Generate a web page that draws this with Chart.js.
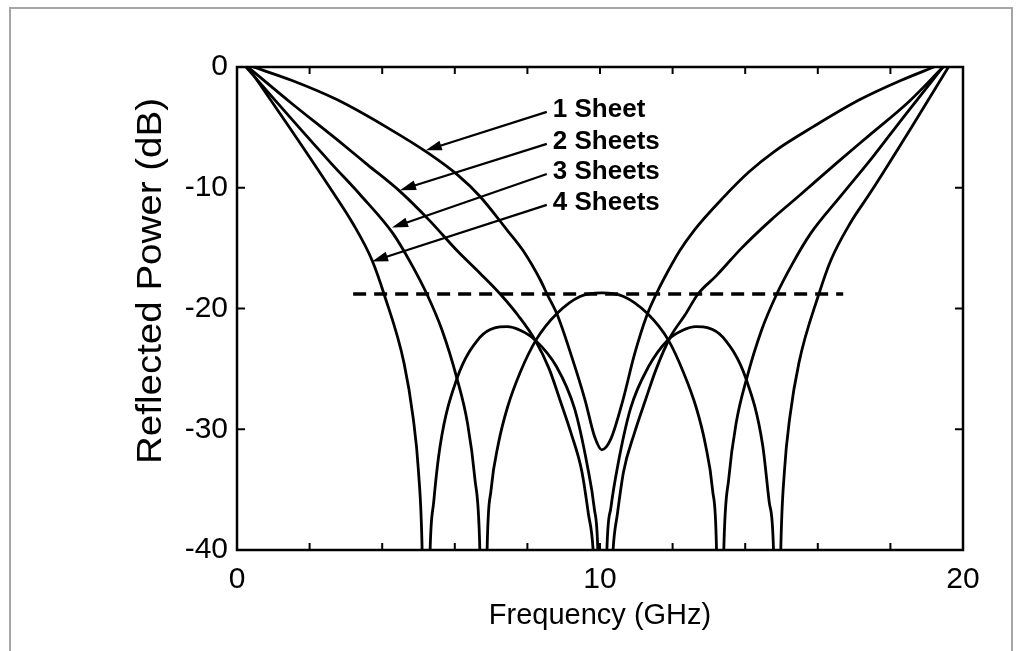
<!DOCTYPE html>
<html lang="en">
<head>
    <meta charset="UTF-8">
    <title>Reflected Power</title>
    <style>
        body { margin: 0; background: #fff; }
        .grafico { position: relative; width: 1020px; height: 651px; }
    </style>
</head>
<body>
    <div class="grafico">
        <canvas id="myChart" width="1020" height="651"></canvas>
    </div>

    <script src="https://cdn.jsdelivr.net/npm/chart.js"></script>
    <script>
        // values: frequency (GHz) / reflected power (dB)
        var freq1 = [0.45, 1.5, 2.75, 4.13, 5.3, 6.1, 6.69, 7.44, 7.88, 8.35, 8.54, 8.82, 9.2, 9.59, 9.85, 10.05, 10.3, 10.63, 10.95, 11.3, 11.55, 11.75, 12.2, 12.6, 13.4, 14.1, 14.8, 15.9, 17.16, 18.3, 19.2];
        var power1 = [0, -1.1, -2.7, -5.0, -7.2, -9.0, -10.7, -13.5, -15.2, -17.6, -18.8, -20.5, -23.8, -27.6, -30.6, -31.7, -30.8, -27.6, -23.8, -20.5, -18.8, -17.6, -15.2, -13.5, -10.8, -8.7, -7.0, -4.9, -2.7, -1.1, 0];

        var freq2 = [0.3, 1.5, 2.75, 3.6, 4.49, 5.3, 6.06, 6.7, 7.25, 7.75, 8.21, 8.6, 8.9, 9.2, 9.5, 9.68, 9.81, 10.08, 10.36, 10.48, 10.65, 10.95, 11.25, 11.55, 11.93, 12.35, 12.7, 13.2, 13.9, 14.7, 15.51, 16.5, 17.4, 18.5, 19.45];
        var power2 = [0, -3.0, -6.0, -8.1, -10.3, -12.7, -15.2, -17.1, -18.8, -20.6, -22.6, -25.0, -27.6, -30.3, -33.5, -37, -40, -60, -40, -37, -33.5, -30.3, -27.6, -25.0, -22.4, -20.5, -18.8, -17.3, -15.0, -12.7, -10.6, -8.0, -5.7, -2.9, 0];

        var freq3 = [0.25, 1.5, 2.6, 3.4, 4.3, 4.8, 5.23, 5.65, 6.06, 6.35, 6.55, 6.69, 6.8, 6.89, 7.0, 7.2, 7.45, 7.8, 8.24, 8.82, 9.45, 10.05, 10.65, 11.3, 11.88, 12.3, 12.65, 12.9, 13.1, 13.21, 13.3, 13.41, 13.55, 13.75, 14.04, 14.45, 14.87, 15.3, 15.8, 16.6, 17.5, 18.4, 19.45];
        var power3 = [0, -4.3, -8.0, -10.6, -13.8, -16.3, -18.8, -21.8, -25.8, -29.5, -34, -40, -60, -40, -35, -31.2, -28.2, -25.3, -22.6, -20.4, -19.0, -18.7, -19.0, -20.4, -22.6, -25.3, -28.2, -31.2, -35, -40, -60, -40, -34, -29.5, -25.8, -21.8, -18.8, -16.3, -13.8, -10.8, -7.5, -4.0, 0];

        var freq4 = [0.3, 1.4, 2.56, 3.2, 3.72, 4.05, 4.6, 4.85, 5.0, 5.1, 5.2, 5.32, 5.42, 5.6, 6.06, 6.69, 7.1, 7.44, 7.8, 8.21, 8.8, 9.3, 9.65, 9.84, 9.94, 10.07, 10.19, 10.3, 10.49, 10.84, 11.34, 11.87, 12.28, 12.64, 12.98, 13.39, 14.02, 14.48, 14.66, 14.78, 14.88, 14.98, 15.08, 15.23, 15.48, 16.03, 16.36, 16.88, 17.45, 18.6, 19.6];
        var power4 = [0, -4.8, -10.0, -13.0, -16.0, -18.8, -24.5, -29, -33.5, -40, -60, -40, -36, -31.3, -25.8, -22.4, -21.6, -21.5, -21.8, -22.6, -24.8, -28.3, -33, -36.5, -40, -60, -40, -36.5, -33, -28.3, -24.8, -22.6, -21.8, -21.5, -21.6, -22.4, -25.8, -31.3, -36, -40, -60, -40, -33.5, -29, -24.5, -18.8, -16.0, -13.0, -10.4, -4.9, 0];

        // dashed -18.8 dB level
        var dashFreq = [3.2, 16.7];
        var dashPower = [-18.8, -18.8];

        // curve labels and where their arrows point
        var labelNames = ['1 Sheet', '2 Sheets', '3 Sheets', '4 Sheets'];
        var labelFreq = [8.7, 8.7, 8.7, 8.7];
        var labelPower = [-3.55, -6.2, -8.7, -11.25];
        var arrowFreq = [5.2, 4.49, 4.27, 3.72];
        var arrowPower = [-6.9, -10.2, -13.3, -16.1];

        var xLabels = [0, 10, 20];

        function pontos(xs, ys) {
            return xs.map(function (x, i) { return { x: x, y: ys[i] }; });
        }

        function curva(xs, ys) {
            return {
                data: pontos(xs, ys),
                borderColor: '#000',
                borderWidth: 2.8,
                pointRadius: 0,
                cubicInterpolationMode: 'monotone',
                fill: false,
                clip: 0
            };
        }

        var linhaTracejada = {
            data: pontos(dashFreq, dashPower),
            borderColor: '#000',
            borderWidth: 3.5,
            borderDash: [13, 8],
            pointRadius: 0,
            fill: false
        };

        var fonte = "'Liberation Sans', Arial, Helvetica, sans-serif";

        var moldura = {
            id: 'moldura',
            afterDraw: function (chart) {
                var ctx = chart.ctx;
                var a = chart.chartArea;
                var xs = chart.scales.x, ys = chart.scales.y;
                ctx.save();

                // box
                ctx.strokeStyle = '#000';
                ctx.lineWidth = 2.5;
                ctx.strokeRect(a.left, a.top, a.right - a.left, a.bottom - a.top);

                // inward ticks
                ctx.lineWidth = 2;
                ctx.beginPath();
                xs.ticks.forEach(function (t) {
                    var px = xs.getPixelForValue(t.value);
                    ctx.moveTo(px, a.top); ctx.lineTo(px, a.top + 7);
                    ctx.moveTo(px, a.bottom); ctx.lineTo(px, a.bottom - 7);
                });
                ys.ticks.forEach(function (t) {
                    var py = ys.getPixelForValue(t.value);
                    ctx.moveTo(a.left, py); ctx.lineTo(a.left + 8, py);
                    ctx.moveTo(a.right, py); ctx.lineTo(a.right - 8, py);
                });
                ctx.stroke();

                // y axis title, a bit stretched like the scan
                ctx.save();
                ctx.translate(151, 281);
                ctx.rotate(-Math.PI / 2);
                ctx.scale(1.1, 1);
                ctx.font = "35px " + fonte;
                ctx.fillStyle = '#000';
                ctx.textAlign = 'center';
                ctx.textBaseline = 'middle';
                ctx.fillText('Reflected Power (dB)', 0, 0);
                ctx.restore();

                // labels + arrows
                ctx.font = "bold 26px " + fonte;
                ctx.fillStyle = '#000';
                ctx.textBaseline = 'middle';
                ctx.textAlign = 'left';
                labelNames.forEach(function (nome, i) {
                    var tx = xs.getPixelForValue(labelFreq[i]);
                    var ty = ys.getPixelForValue(labelPower[i]);
                    ctx.fillText(nome, tx, ty);

                    var x0 = tx - 6, y0 = ty + 2;
                    var x1 = xs.getPixelForValue(arrowFreq[i]);
                    var y1 = ys.getPixelForValue(arrowPower[i]);
                    var ang = Math.atan2(y1 - y0, x1 - x0);
                    ctx.lineWidth = 2.2;
                    ctx.beginPath();
                    ctx.moveTo(x0, y0);
                    ctx.lineTo(x1 - 12 * Math.cos(ang), y1 - 12 * Math.sin(ang));
                    ctx.stroke();
                    ctx.beginPath();
                    ctx.moveTo(x1, y1);
                    ctx.lineTo(x1 - 16 * Math.cos(ang) + 5 * Math.sin(ang), y1 - 16 * Math.sin(ang) - 5 * Math.cos(ang));
                    ctx.lineTo(x1 - 16 * Math.cos(ang) - 5 * Math.sin(ang), y1 - 16 * Math.sin(ang) + 5 * Math.cos(ang));
                    ctx.closePath();
                    ctx.fill();
                });

                // outer grey frame of the figure
                ctx.strokeStyle = '#a6a6a6';
                ctx.lineWidth = 2;
                ctx.beginPath();
                ctx.moveTo(10, 651); ctx.lineTo(10, 8); ctx.lineTo(1012, 8); ctx.lineTo(1012, 651);
                ctx.stroke();
                ctx.restore();
            }
        };

        var ctx = document.getElementById('myChart').getContext('2d');
        var myChart = new Chart(ctx, {
            type: 'line',
            data: {
                datasets: [
                    curva(freq1, power1),
                    curva(freq2, power2),
                    curva(freq3, power3),
                    curva(freq4, power4),
                    linhaTracejada
                ]
            },
            options: {
                responsive: false,
                animation: false,
                layout: { padding: { left: 0, right: 57, top: 67, bottom: 0 } },
                plugins: {
                    legend: { display: false },
                    tooltip: { enabled: false }
                },
                scales: {
                    x: {
                        type: 'linear',
                        min: 0,
                        max: 20,
                        grid: { display: false, drawTicks: false },
                        border: { display: false },
                        ticks: {
                            stepSize: 2,
                            padding: 12,
                            color: '#000',
                            font: { family: fonte, size: 30 },
                            maxRotation: 0,
                            autoSkip: false,
                            callback: function (v) { return xLabels.indexOf(v) >= 0 ? String(v) : ''; }
                        },
                        title: {
                            display: true,
                            text: 'Frequency (GHz)',
                            color: '#000',
                            font: { family: fonte, size: 29 },
                            padding: { top: 0, bottom: 18 }
                        },
                        afterFit: function (s) { s.height = 101; }
                    },
                    y: {
                        min: -40,
                        max: 0,
                        grid: { display: false, drawTicks: false },
                        border: { display: false },
                        ticks: {
                            stepSize: 10,
                            padding: 9,
                            color: '#000',
                            font: { family: fonte, size: 30 }
                        },
                        title: { display: false },
                        afterFit: function (s) { s.width = 237; }
                    }
                }
            },
            plugins: [moldura]
        });
    </script>
</body>
</html>
